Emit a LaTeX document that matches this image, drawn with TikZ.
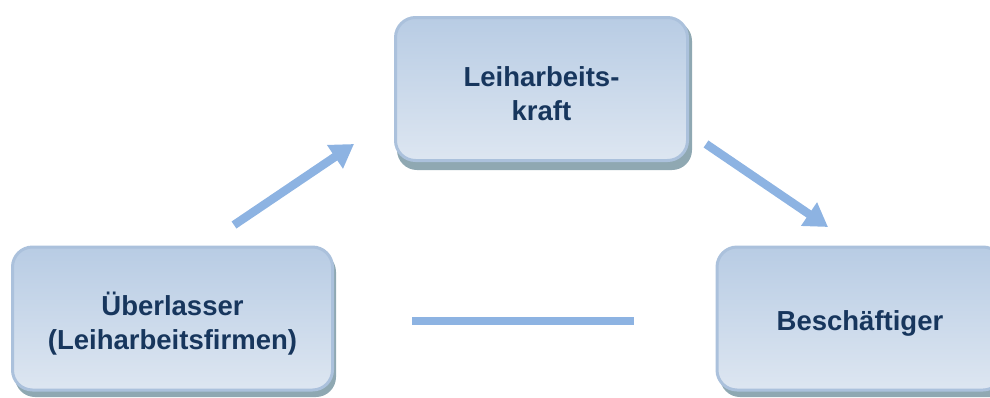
\documentclass[tikz,border=0pt]{standalone}
\usepackage{fontspec}
\setmainfont{Liberation Sans}
\usetikzlibrary{arrows.meta}
\definecolor{txt}{HTML}{17365D}
\definecolor{boxtop}{HTML}{B8CCE4}
\definecolor{boxbot}{HTML}{DDE6F1}
\definecolor{rim}{HTML}{ABC1DC}
\definecolor{shad}{HTML}{8FA8B2}
\definecolor{arr}{HTML}{8DB3E2}
\tikzset{
  rbox/.style={rounded corners=20pt, draw=rim, line width=3pt, top color=boxtop, bottom color=boxbot,
    minimum width=292pt, minimum height=143pt, inner sep=0pt},
  lbl/.style={align=center, text=txt, font=\fontsize{27.5}{34}\selectfont\bfseries, inner sep=0pt, yshift=-5pt},
  shadowbox/.style={rounded corners=20pt, fill=shad, draw=none},
  conn/.style={arr, line width=8.5pt, -{Triangle[width=27pt,length=23pt]}},
  plainconn/.style={arr, line width=8.5pt}
}
\begin{document}
\begin{tikzpicture}[x=1pt,y=1pt]
\useasboundingbox (0,0) rectangle (990,-397);
\clip (0,0) rectangle (990,-397);
% shadows
\fill[shadowbox] (397,-21) rectangle (692,-170);
\fill[shadowbox] (15,-252) rectangle (336,-397);
\fill[shadowbox] (720,-252) rectangle (1015,-397);
% boxes
\node[rbox] (top) at (541.5,-89) {};
\node[lbl] (toplbl) at (top.center) {Leiharbeits-\\kraft};
\node[rbox, minimum width=320pt] (left) at (172.5,-318.5) {};
\node[lbl] (leftlbl) at (left.center) {Überlasser\\(Leiharbeitsfirmen)};
\node[rbox, minimum width=286pt] (right) at (860,-318.5) {};
\node[lbl] (rightlbl) at (right.center) {Beschäftiger};
% connectors
\coordinate (a1) at (234,-225);
\coordinate (a2) at (354,-144);
\coordinate (b1) at (706,-144);
\coordinate (b2) at (828,-227);
\coordinate (c1) at (412,-321);
\coordinate (c2) at (634,-321);
\draw[conn] (a1) -- (a2);
\draw[conn] (b1) -- (b2);
\draw[plainconn] (c1) -- (c2);
\end{tikzpicture}
\end{document}
